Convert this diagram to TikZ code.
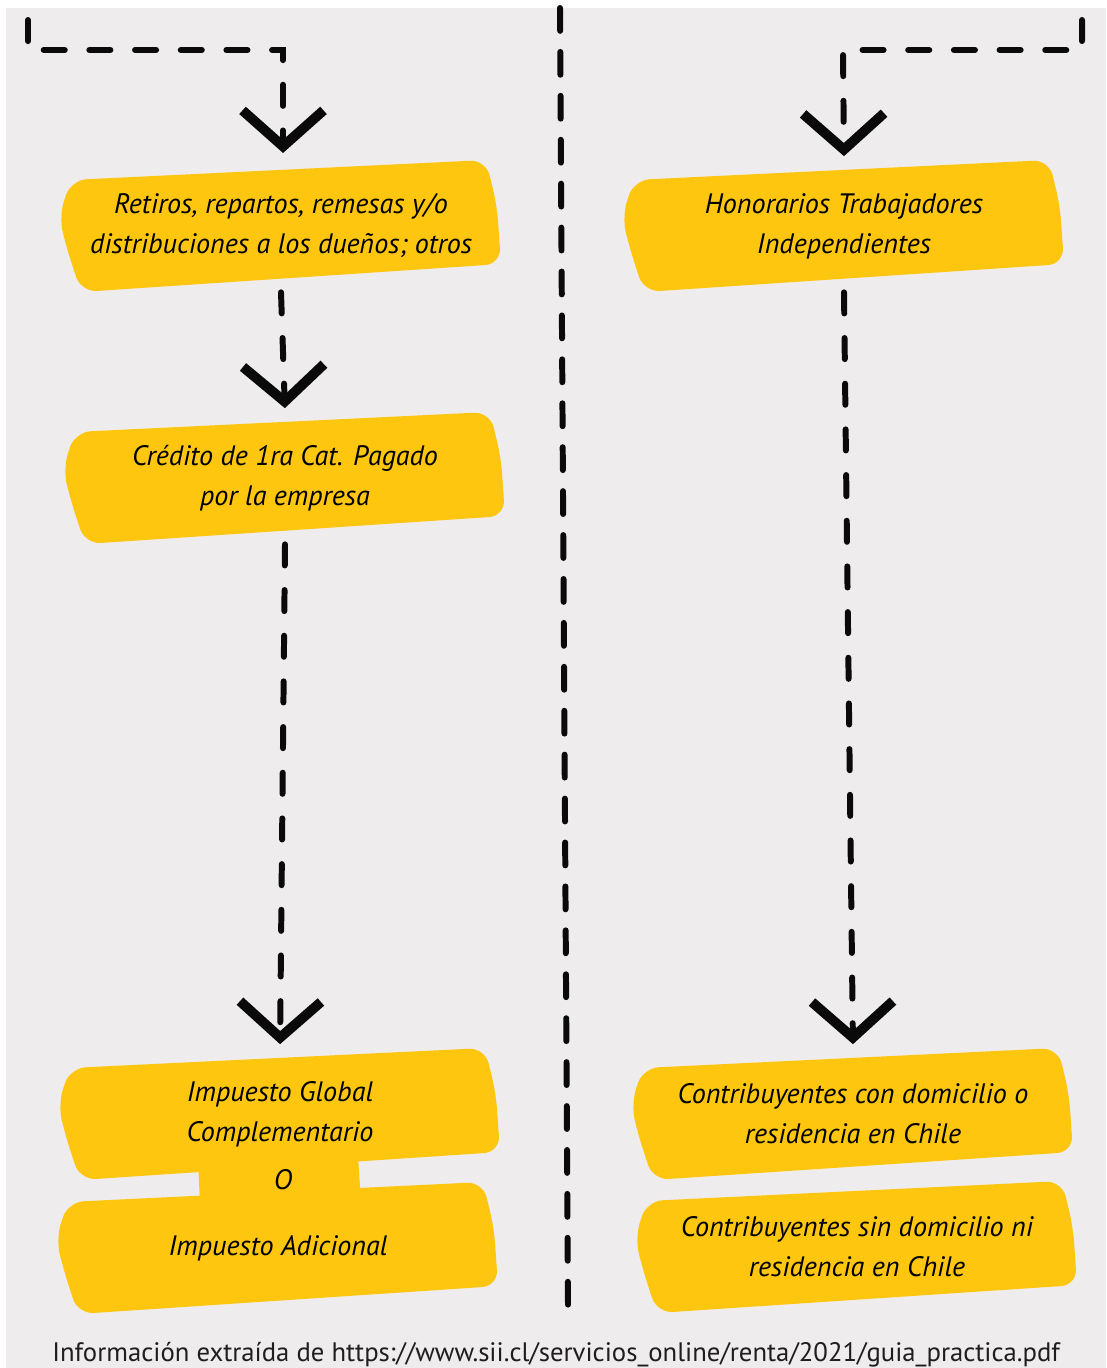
\documentclass[tikz,border=0pt]{standalone}
\usepackage{fontspec}
\setmainfont{PT Sans}
\usetikzlibrary{arrows.meta,backgrounds,calc,positioning}

\definecolor{brushYellow}{HTML}{FEC60E}
\definecolor{paperGray}{HTML}{EEECED}
\definecolor{inkBlack}{HTML}{0A0A0A}
\definecolor{noteGray}{HTML}{1E1E1E}

% yellow brush stroke behind a box node (offsets in px, y down)
\newcommand{\brushbox}[1]{%
  \fill[brushYellow, rounded corners=9pt]
    ($(#1.center)+(-210,-46)$) -- ($(#1.center)+(205,-66)$)
    -- ($(#1.center)+(216,-20)$) -- ($(#1.center)+(220,38)$)
    -- ($(#1.center)+(-200,66)$) -- ($(#1.center)+(-215,20)$)
    -- ($(#1.center)+(-222,-10)$) -- cycle;}

\tikzset{
  flowBox/.style={
    minimum width=8.8cm,
    minimum height=2.64cm,
    align=center,
    inner sep=0pt,
    font=\itshape\fontsize{16}{22.7}\selectfont
  },
  flowLink/.style={
    inkBlack,
    line width=3.4pt,
    line cap=round,
    dash pattern=on 12pt off 14pt,
    -{Straight Barb[length=0.72cm, width=1.62cm, line width=5.6pt]}
  },
  dividerLine/.style={
    inkBlack,
    line width=3.4pt,
    line cap=round,
    dash pattern=on 13pt off 12pt
  },
  srcNote/.style={
    font=\fontsize{15.2}{18}\selectfont,
    text=noteGray,
    inner sep=0pt
  }
}

\begin{document}
\begin{tikzpicture}[x=0.02cm, y=-0.02cm]
  \useasboundingbox (0,0) rectangle (1106,1368);

  % left column
  \node[flowBox] (ret) at (281,226)
    {Retiros, repartos, remesas y/o\\distribuciones a los dueños; otros};
  \node[flowBox] (cred) at (285,478)
    {Crédito de 1ra Cat. Pagado\\por la empresa};
  \node[flowBox] (igc) at (280,1114)
    {Impuesto Global\\Complementario};
  \node[flowBox] (iad) at (278,1248) {Impuesto Adicional};
  \node[flowBox, minimum width=0pt, minimum height=0pt] (orTxt) at (283,1180) {O};

  % right column
  \node[flowBox] (hon) at (844,226)
    {Honorarios Trabajadores\\Independientes};
  \node[flowBox] (ccd) at (853,1114)
    {Contribuyentes con domicilio o\\residencia en Chile};
  \node[flowBox] (csd) at (857,1247)
    {Contribuyentes sin domicilio ni\\residencia en Chile};

  \node[srcNote, anchor=base west] (src) at (52,1361)
    {Información extraída de https://www.sii.cl/servicios\_online/renta/2021/guia\_practica.pdf};

  \begin{scope}[on background layer]
    \fill[white] (0,0) rectangle (1106,1368);
    \fill[paperGray] (6,8) rectangle (1106,1368);
    \brushbox{ret}
    \brushbox{cred}
    \brushbox{igc}
    \brushbox{iad}
    \brushbox{hon}
    \brushbox{ccd}
    \brushbox{csd}
    \fill[brushYellow] (198,1158) -- (358,1156) -- (361,1202) -- (200,1204) -- cycle;
  \end{scope}

  % connectors
  \coordinate (inL) at (28,20);
  \coordinate (inR) at (1082,20);
  \coordinate (divTop) at (560,8);
  \coordinate (divBot) at (568,1306);

  \draw[flowLink, shorten >=4pt] (inL) -- (28,50) -- (283,50) -- (283,160);
  \draw[flowLink, shorten >=2pt] (inR) -- (1082,50) -- (843,50) -- (hon.north);
  \draw[flowLink, shorten >=2pt] (ret.south) -- (cred.north);
  \draw[flowLink, shorten >=2pt] (cred.south) -- (igc.north);
  \draw[flowLink, shorten >=2pt] (hon.south) -- (ccd.north);
  \draw[dividerLine] (divTop) -- (divBot);
\end{tikzpicture}
\end{document}
